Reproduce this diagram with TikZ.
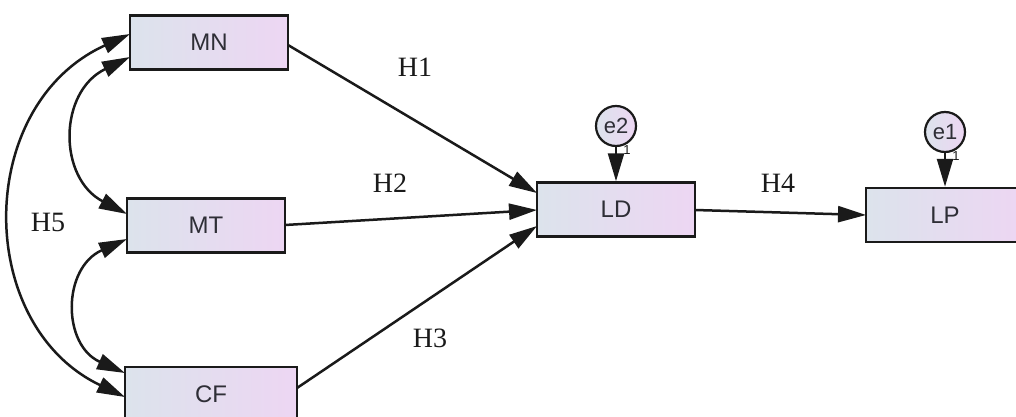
\documentclass[tikz,border=0pt]{standalone}
\usepackage{fontspec}
\setmainfont{Liberation Serif}
\setsansfont{Liberation Sans}
\usetikzlibrary{arrows.meta}
\definecolor{boxleft}{HTML}{DCE3EC}
\definecolor{boxright}{HTML}{EDD6F3}
\definecolor{ink}{HTML}{1A1A1A}
\definecolor{labelgray}{HTML}{2E2E36}
\tikzset{
  varbox/.style={draw=ink, line width=2.5pt, left color=boxleft, right color=boxright,
    minimum width=#1, minimum height=54pt, inner sep=0pt,
    font=\sffamily\fontsize{24}{26}\selectfont, text=labelgray},
  errvar/.style={draw=ink, line width=2.2pt, circle, left color=boxleft, right color=boxright,
    minimum size=40pt, inner sep=0pt, font=\sffamily\fontsize{22}{24}\selectfont, text=labelgray},
  path/.style={draw=ink, line width=2.5pt, -{Triangle[length=28pt,width=16pt]}},
  covar/.style={draw=ink, line width=2.5pt, {Triangle[length=28pt,width=16pt]}-{Triangle[length=28pt,width=16pt]}},
  hyp/.style={font=\fontsize{28}{30}\selectfont, text=ink},
  weight/.style={font=\sffamily\fontsize{13}{14}\selectfont, text=ink}
}
\begin{document}
\begin{tikzpicture}[x=1pt, y=-1pt]
  \useasboundingbox (0,0) rectangle (1016,417);
  \fill[white] (0,0) rectangle (1016,417);

  % observed variables
  \node[varbox=158pt] (MN) at (209,42.5) {MN};
  \node[varbox=158pt] (MT) at (206,225.5) {MT};
  \node[varbox=172pt] (CF) at (211,394) {CF};
  \node[varbox=158pt] (LD) at (616,209.5) {LD};
  \node[varbox=158pt] (LP) at (945,215) {LP};

  % error terms
  \node[errvar] (e2) at (616,126) {e2};
  \node[errvar] (e1) at (945,132) {e1};

  % anchor points on the box edges
  \coordinate (MNr) at (288,45);
  \coordinate (MTr) at (285,225);
  \coordinate (CFr) at (297,388);
  \coordinate (LDa) at (537,193);
  \coordinate (LDb) at (537,210);
  \coordinate (LDc) at (537,226);
  \coordinate (LDr) at (695,210);
  \coordinate (LPl) at (866,215);

  % regression paths
  \draw[path] (MNr) -- (LDa);
  \draw[path] (MTr) -- (LDb);
  \draw[path] (CFr) -- (LDc);
  \draw[path] (LDr) -- (LPl);
  \draw[path] (e2.south) -- (LD.north);
  \draw[path] (e1.south) -- (LP.north);

  % fixed weights of the error terms
  \node[weight] (w2) at (627,150) {1};
  \node[weight] (w1) at (956,156) {1};

  % covariances
  \coordinate (MNa) at (130,34);
  \coordinate (MNb) at (130,57);
  \coordinate (MTa) at (127,214);
  \coordinate (MTb) at (127,239);
  \coordinate (CFa) at (125,373);
  \coordinate (CFb) at (125,397);
  \draw[covar] (MNb) .. controls (58,92) and (58,178) .. (MTa);
  \draw[covar] (MTb) .. controls (62,268) and (62,345) .. (CFa);
  \draw[covar] (MNa) .. controls (-26,105) and (-26,325) .. (CFb);

  % hypothesis labels
  \node[hyp] (H1) at (415,67) {H1};
  \node[hyp] (H2) at (390,183) {H2};
  \node[hyp] (H3) at (430,338) {H3};
  \node[hyp] (H4) at (778,183) {H4};
  \node[hyp] (H5) at (48,222) {H5};
\end{tikzpicture}
\end{document}
